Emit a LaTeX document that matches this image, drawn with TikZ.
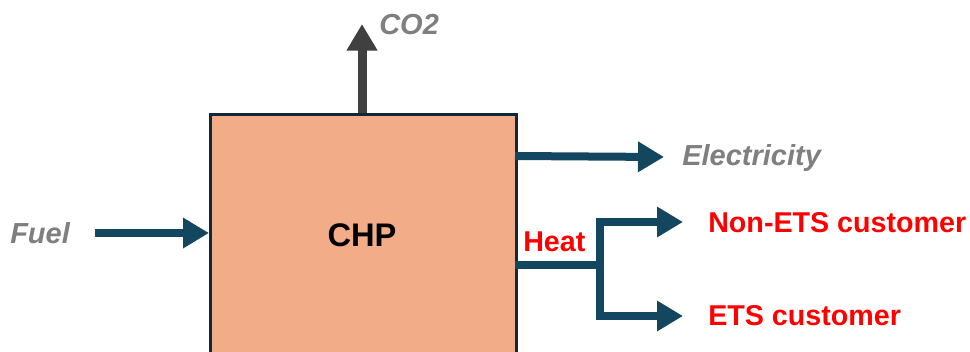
\documentclass[tikz,border=0pt]{standalone}
\usepackage{fontspec}
\setmainfont{Liberation Sans}
\usetikzlibrary{arrows.meta}
\definecolor{flowc}{HTML}{13465F}
\definecolor{boxfill}{HTML}{F2AC87}
\definecolor{boxline}{HTML}{0E2A3A}
\definecolor{graytxt}{HTML}{7F7F7F}
\definecolor{co2c}{HTML}{404040}
\definecolor{redtxt}{HTML}{FF0000}
\tikzset{
  flow/.style={draw=flowc, line width=6pt, -{Triangle[length=19.5pt,width=21.75pt]}},
  flowline/.style={draw=flowc, line width=6pt},
  co2arrow/.style={draw=co2c, line width=6.75pt, -{Triangle[length=20pt,width=22pt]}},
  lbl/.style={inner sep=0pt, anchor=base west, font=\fontsize{21.5}{25}\selectfont\bfseries},
  graylbl/.style={lbl, text=graytxt, font=\fontsize{21.75}{25}\selectfont\bfseries\itshape},
  redlbl/.style={lbl, text=redtxt},
  chpbox/.style={draw=boxline, line width=2.2pt, fill=boxfill, inner sep=0pt, anchor=north west,
    minimum width=229.5pt, minimum height=200pt}
}
\begin{document}
\begin{tikzpicture}[x=0.75pt, y=-0.75pt]
\useasboundingbox (0,0) rectangle (970,351);
\clip (0,0) rectangle (970,351);
\node[chpbox] (chp) at (209,113) {};
\node[lbl, anchor=base, font=\fontsize{24.5}{28}\selectfont\bfseries] (chptxt) at (362,246) {CHP};
% CO2
\coordinate (co2s) at (362,113);
\coordinate (co2e) at (362,24);
\draw[co2arrow] (co2s) -- (co2e);
\node[graylbl] (co2) at (379,34) {CO2};
% Fuel
\node[graylbl] (fuel) at (10,243) {Fuel};
\coordinate (fuels) at (95,233);
\draw[flow] (fuels) -- (fuels -| chp.west);
% Electricity
\node[graylbl] (elec) at (682,165) {Electricity};
\coordinate (elecs) at (515,156);
\coordinate (elece) at (664,157);
\draw[flow] (elecs) -- (elece);
% Heat
\node[redlbl] (heat) at (523,251) {Heat};
\coordinate (heats) at (515,265);
\coordinate (heatj) at (600,265);
\coordinate (t1) at (683,222);
\coordinate (t2) at (683,316);
\draw[flowline] (heats) -- (heatj);
\draw[flow] (heatj) |- (t1);
\draw[flow] (heatj) |- (t2);
\node[redlbl] (nonets) at (708,232) {Non-ETS customer};
\node[redlbl] (ets) at (708,325) {ETS customer};
\end{tikzpicture}
\end{document}
